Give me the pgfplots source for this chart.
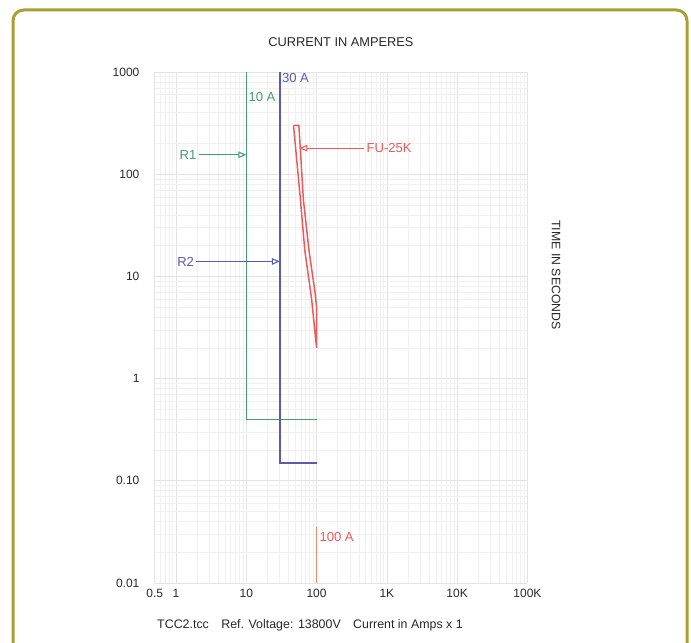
\documentclass[border=0pt]{standalone}
\usepackage{pgfplots}
\pgfplotsset{compat=1.18}
\usepackage{fontspec}
\setmainfont{Liberation Sans}
\usetikzlibrary{arrows.meta}
\definecolor{framecol}{RGB}{168,160,52}
\definecolor{rone}{RGB}{70,155,120}
\definecolor{rtwo}{RGB}{90,90,180}
\definecolor{fucol}{RGB}{235,90,90}
\definecolor{hundred}{RGB}{240,140,110}
\definecolor{txt}{RGB}{40,40,40}
\begin{document}
\begin{tikzpicture}
\useasboundingbox (0pt,0pt) rectangle (518.25pt,-481.5pt);
\clip (0pt,0pt) rectangle (518.25pt,-481.5pt);
\begin{scope}[x=0.75pt,y=-0.75pt]
\draw[framecol, line width=2.25pt, rounded corners=8pt] (13,10) rectangle (687,690);
\node[txt, font=\fontsize{9.6}{11}\selectfont] at (341,42) {CURRENT IN AMPERES};
\node[txt, rotate=-90, font=\fontsize{9.2}{11}\selectfont] at (556,275) {TIME IN SECONDS};
\node[txt, font=\fontsize{9.3}{11}\selectfont] at (310,625) {TCC2.tcc\quad Ref. Voltage: 13800V\quad Current in Amps x 1};
\end{scope}
\begin{axis}[
  at={(116.1pt,-437.25pt)}, anchor=south west,
  scale only axis, width=279.5pt, height=383.25pt,
  xmode=log, ymode=log,
  xmin=0.5, xmax=1e5, ymin=0.01, ymax=1000,
  xtick={0.5,1,10,100,1000,10000,100000},
  xticklabels={0.5,1,10,100,1K,10K,100K},
  ytick={0.01,0.1,1,10,100,1000},
  yticklabels={0.01,0.10,1,10,100,1000},
  minor xtick={0.6,0.7,0.8,0.9,2,3,4,5,6,7,8,9,20,30,40,50,60,70,80,90,200,300,400,500,600,700,800,900,2000,3000,4000,5000,6000,7000,8000,9000,20000,30000,40000,50000,60000,70000,80000,90000},
  minor ytick={0.02,0.03,0.04,0.05,0.06,0.07,0.08,0.09,0.2,0.3,0.4,0.5,0.6,0.7,0.8,0.9,2,3,4,5,6,7,8,9,20,30,40,50,60,70,80,90,200,300,400,500,600,700,800,900},
  grid=both,
  major grid style={gray!22, line width=0.5pt},
  minor grid style={gray!12, line width=0.5pt},
  axis line style={draw=none},
  major tick length=0pt, minor tick length=0pt,
  tick label style={txt, font=\fontsize{9}{10}\selectfont},
  yticklabel style={xshift=-8pt},
  xticklabel style={yshift=-1pt},
  /pgf/number format/assume math mode=true,
  clip=false,
]
\addplot[rone, line width=1.1pt] coordinates {(10,1000) (10,0.4) (100,0.4)};
\addplot[rtwo, line width=1.1pt] coordinates {(30,1000) (30,0.15) (100,0.15)};
\addplot[fucol, line width=1.1pt] coordinates {(47,300) (59,56) (68,18) (85,6) (100,2) (100,5) (95,7) (78,18) (65,56) (56,300) (47,300)};
\addplot[hundred, line width=1.1pt] coordinates {(100,0.01) (100,0.035)};
\addplot[rone, line width=0.8pt, -{Triangle[open,length=6pt,width=5pt]}] coordinates {(2.1,155) (10,155)};
\addplot[rtwo, line width=0.8pt, -{Triangle[open,length=6pt,width=5pt]}] coordinates {(1.95,14) (30,14)};
\addplot[fucol, line width=0.8pt, -{Triangle[open,length=6pt,width=5pt]}] coordinates {(480,180) (57,180)};
\node[rone, anchor=east, inner sep=1pt, font=\fontsize{9.8}{11}\selectfont] at (axis cs:2.05,155) {R1};
\node[rtwo, anchor=east, inner sep=1pt, font=\fontsize{9.8}{11}\selectfont] at (axis cs:1.9,14) {R2};
\node[rone, anchor=west, inner sep=1.5pt, font=\fontsize{9.8}{11}\selectfont] at (axis cs:10,570) {10 A};
\node[rtwo, anchor=west, inner sep=1.5pt, font=\fontsize{9.8}{11}\selectfont] at (axis cs:30,870) {30 A};
\node[fucol, anchor=west, inner sep=1pt, font=\fontsize{9.8}{11}\selectfont] at (axis cs:490,180) {FU-25K};
\node[fucol, anchor=west, inner sep=2pt, font=\fontsize{9.8}{11}\selectfont] at (axis cs:100,0.028) {100 A};
\end{axis}
\end{tikzpicture}
\end{document}
